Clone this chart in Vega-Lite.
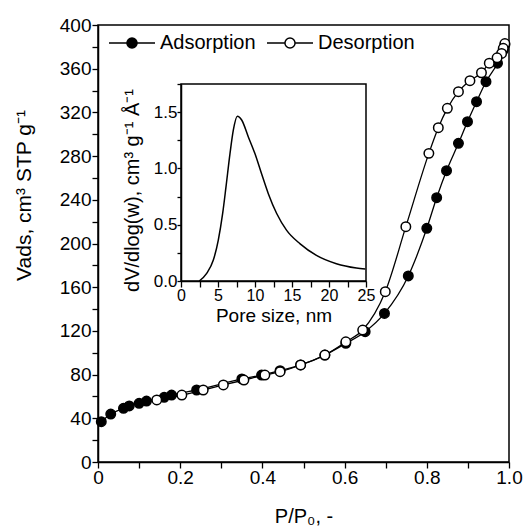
{
  "$schema": "https://vega.github.io/schema/vega-lite/v6.json",
  "width": 411,
  "height": 437,
  "autosize": {"type": "none"},
  "padding": {"left": 98, "top": 25, "right": 16, "bottom": 70},
  "background": "white",
  "config": {
    "font": "Liberation Sans",
    "view": {"stroke": "black", "strokeWidth": 1.5},
    "axis": {"grid": false, "domainColor": "black", "domainWidth": 1.5, "tickColor": "black", "tickWidth": 1.3, "labelColor": "black", "titleColor": "black", "titleFontWeight": "normal", "labelFlush": false, "labelOverlap": false}
  },
  "resolve": {"scale": {"x": "independent", "y": "independent"}, "axis": {"x": "independent", "y": "independent"}},
  "layer": [
    {
      "data": {"values": [
        {"P": 0.008, "V": 36.9, "series": "Adsorption"},
        {"P": 0.031, "V": 43.9, "series": "Adsorption"},
        {"P": 0.062, "V": 49.1, "series": "Adsorption"},
        {"P": 0.076, "V": 51.3, "series": "Adsorption"},
        {"P": 0.100, "V": 53.7, "series": "Adsorption"},
        {"P": 0.118, "V": 55.8, "series": "Adsorption"},
        {"P": 0.161, "V": 59.2, "series": "Adsorption"},
        {"P": 0.179, "V": 61.3, "series": "Adsorption"},
        {"P": 0.240, "V": 65.9, "series": "Adsorption"},
        {"P": 0.350, "V": 76.0, "series": "Adsorption"},
        {"P": 0.398, "V": 79.6, "series": "Adsorption"},
        {"P": 0.443, "V": 83.6, "series": "Adsorption"},
        {"P": 0.493, "V": 88.8, "series": "Adsorption"},
        {"P": 0.552, "V": 97.9, "series": "Adsorption"},
        {"P": 0.603, "V": 108.6, "series": "Adsorption"},
        {"P": 0.650, "V": 119.3, "series": "Adsorption"},
        {"P": 0.697, "V": 136.0, "series": "Adsorption"},
        {"P": 0.755, "V": 170.3, "series": "Adsorption"},
        {"P": 0.800, "V": 213.9, "series": "Adsorption"},
        {"P": 0.824, "V": 241.9, "series": "Adsorption"},
        {"P": 0.848, "V": 266.6, "series": "Adsorption"},
        {"P": 0.877, "V": 291.7, "series": "Adsorption"},
        {"P": 0.899, "V": 311.5, "series": "Adsorption"},
        {"P": 0.921, "V": 329.8, "series": "Adsorption"},
        {"P": 0.944, "V": 348.1, "series": "Adsorption"},
        {"P": 0.972, "V": 365.0, "series": "Adsorption"},
        {"P": 0.986, "V": 377.0, "series": "Adsorption"},
        {"P": 0.990, "V": 382.0, "series": "Adsorption"},
        {"P": 0.990, "V": 383.0, "series": "Desorption"},
        {"P": 0.986, "V": 378.7, "series": "Desorption"},
        {"P": 0.982, "V": 374.0, "series": "Desorption"},
        {"P": 0.971, "V": 370.0, "series": "Desorption"},
        {"P": 0.952, "V": 365.0, "series": "Desorption"},
        {"P": 0.933, "V": 356.3, "series": "Desorption"},
        {"P": 0.905, "V": 349.0, "series": "Desorption"},
        {"P": 0.877, "V": 339.0, "series": "Desorption"},
        {"P": 0.850, "V": 323.7, "series": "Desorption"},
        {"P": 0.828, "V": 306.0, "series": "Desorption"},
        {"P": 0.805, "V": 282.5, "series": "Desorption"},
        {"P": 0.749, "V": 215.4, "series": "Desorption"},
        {"P": 0.699, "V": 155.9, "series": "Desorption"},
        {"P": 0.644, "V": 120.8, "series": "Desorption"},
        {"P": 0.603, "V": 110.0, "series": "Desorption"},
        {"P": 0.552, "V": 97.9, "series": "Desorption"},
        {"P": 0.493, "V": 88.8, "series": "Desorption"},
        {"P": 0.443, "V": 82.7, "series": "Desorption"},
        {"P": 0.406, "V": 79.6, "series": "Desorption"},
        {"P": 0.355, "V": 75.0, "series": "Desorption"},
        {"P": 0.305, "V": 70.5, "series": "Desorption"},
        {"P": 0.256, "V": 65.9, "series": "Desorption"},
        {"P": 0.204, "V": 61.3, "series": "Desorption"},
        {"P": 0.143, "V": 56.8, "series": "Desorption"}
      ]},
      "encoding": {
        "x": {"field": "P", "type": "quantitative",
          "scale": {"domain": [0, 1], "nice": false, "zero": false},
          "axis": {"orient": "bottom", "values": [0, 0.1, 0.2, 0.3, 0.4, 0.5, 0.6, 0.7, 0.8, 0.9, 1.0],
            "title": "P/P₀, -", "tickSize": 6, "labelPadding": 0, "labelFontSize": 19, "titleFontSize": 20,
            "labelExpr": "round(datum.value*10)%2==0 ? (datum.value==0 ? '0' : format(datum.value, '.1f')) : ''",
            "titleY": 60, "titleBaseline": "alphabetic",
            "encode": {"ticks": {"update": {"y2": {"signal": "round(datum.value*10)%2==0 ? -7 : -4"}}}}}},
        "y": {"field": "V", "type": "quantitative",
          "scale": {"domain": [0, 400], "nice": false, "zero": false},
          "axis": {"orient": "left", "values": [0, 20, 40, 60, 80, 100, 120, 140, 160, 180, 200, 220, 240, 260, 280, 300, 320, 340, 360, 380, 400],
            "title": "Vads, cm³ STP g⁻¹", "tickSize": 6, "labelPadding": 1, "labelFontSize": 19, "titleFontSize": 21,
            "labelExpr": "datum.value%40==0 ? datum.label : ''",
            "titleX": -68, "titleY": 170, "titleBaseline": "alphabetic", "titleAngle": 270,
            "encode": {"ticks": {"update": {"x2": {"signal": "datum.value%40==0 ? 7 : 4"}}}}}}
      },
      "layer": [
        {"mark": {"type": "line", "interpolate": "monotone", "color": "black", "strokeWidth": 1.3},
         "encoding": {"detail": {"field": "series"}}},
        {"mark": {"type": "point", "size": 90, "stroke": "black", "strokeWidth": 1.5, "opacity": 1},
         "encoding": {"fill": {"field": "series", "type": "nominal",
           "scale": {"domain": ["Adsorption", "Desorption"], "range": ["black", "white"]},
           "legend": {"orient": "none", "legendX": 10, "legendY": -6, "direction": "horizontal", "title": null,
             "symbolType": "M-1,0L-0.22,0M0.22,0L1,0M0.22,0A0.22,0.22,0,1,1,-0.22,0A0.22,0.22,0,1,1,0.22,0Z",
             "symbolSize": 2116, "symbolStrokeColor": "black", "symbolStrokeWidth": 1.5, "symbolOpacity": 1,
             "labelFontSize": 20, "labelColor": "black", "labelOffset": 4, "columnPadding": 8, "padding": 0}}}}
      ]
    },
    {
      "data": {"values": [{"frame": "inset"}]},
      "mark": {"type": "rect", "fill": "transparent", "stroke": "black", "strokeWidth": 1.5},
      "encoding": {
        "x": {"datum": 0, "type": "quantitative", "scale": {"domain": [0, 25], "range": [83, 268], "nice": false, "zero": false}, "axis": null},
        "x2": {"datum": 25},
        "y": {"datum": 0, "type": "quantitative", "scale": {"domain": [0, 1.75], "range": [256, 59], "nice": false, "zero": false}, "axis": null},
        "y2": {"datum": 1.75}
      }
    },
    {
      "data": {"values": [
        {"w": 2.47, "dv": 0.0},
        {"w": 3.47, "dv": 0.068},
        {"w": 4.37, "dv": 0.186},
        {"w": 5.04, "dv": 0.364},
        {"w": 5.63, "dv": 0.6},
        {"w": 6.08, "dv": 0.836},
        {"w": 6.62, "dv": 1.132},
        {"w": 7.07, "dv": 1.34},
        {"w": 7.61, "dv": 1.464},
        {"w": 8.2, "dv": 1.43},
        {"w": 9.1, "dv": 1.28},
        {"w": 10.0, "dv": 1.13},
        {"w": 10.9, "dv": 0.95},
        {"w": 11.8, "dv": 0.776},
        {"w": 12.93, "dv": 0.6},
        {"w": 14.28, "dv": 0.45},
        {"w": 16.1, "dv": 0.33},
        {"w": 18.3, "dv": 0.228},
        {"w": 21.0, "dv": 0.154},
        {"w": 23.7, "dv": 0.116},
        {"w": 24.9, "dv": 0.107}
      ]},
      "mark": {"type": "line", "interpolate": "monotone", "color": "black", "strokeWidth": 1.5},
      "encoding": {
        "x": {"field": "w", "type": "quantitative",
          "scale": {"domain": [0, 25], "range": [83, 268], "nice": false, "zero": false},
          "axis": {"orient": "bottom", "offset": -181, "zindex": 1, "values": [0, 2.5, 5, 7.5, 10, 12.5, 15, 17.5, 20, 22.5, 25],
            "title": "Pore size, nm", "tickSize": 6, "labelPadding": 0, "labelFontSize": 16, "titleFontSize": 19,
            "labelExpr": "datum.value%5==0 ? datum.label : ''",
            "titleY": 40, "titleBaseline": "alphabetic",
            "encode": {"ticks": {"update": {"y2": {"signal": "datum.value%5==0 ? -6 : -3"}}}}}},
        "y": {"field": "dv", "type": "quantitative",
          "scale": {"domain": [0, 1.75], "range": [256, 59], "nice": false, "zero": false},
          "axis": {"orient": "left", "offset": -83, "zindex": 1, "values": [0, 0.25, 0.5, 0.75, 1.0, 1.25, 1.5, 1.75],
            "title": "dV/dlog(w), cm³ g⁻¹ Å⁻¹", "tickSize": 4, "labelPadding": 0, "labelFontSize": 17, "titleFontSize": 20,
            "labelExpr": "round(datum.value*100)%50==0 ? format(datum.value, '.1f') : ''",
            "titleX": -43, "titleY": 165, "titleBaseline": "alphabetic", "titleAngle": 270,
            "encode": {"ticks": {"update": {"x2": {"signal": "round(datum.value*100)%50==0 ? 6 : 3"}}}}}}
      }
    }
  ]
}
